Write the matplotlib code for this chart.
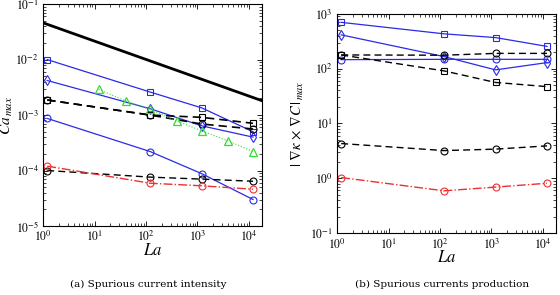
#!/usr/bin/env python3
"""
Spurious currents: intensity (Ca_max) and production (|grad kappa x grad C|_max) vs La
"""
import math
import matplotlib
matplotlib.use('Agg')
import matplotlib.pyplot as plt
from matplotlib.ticker import LogLocator, FuncFormatter, NullFormatter

plt.rcParams['mathtext.fontset'] = 'stix'
plt.rcParams['mathtext.default'] = 'it'
plt.rcParams['font.family'] = ['Liberation Serif', 'DejaVu Serif']

# Laplace numbers of the runs
la = [1.2, 120, 1200, 12000]
la_green = [12, 40, 120, 400, 1200, 4000, 12000]

# (a) Ca_max
ca_blue_sq = [1.0e-2, 2.6e-3, 1.35e-3, 5.0e-4]
ca_blue_di = [4.2e-3, 1.3e-3, 6.4e-4, 4.0e-4]
ca_blue_ci = [8.7e-4, 2.2e-4, 8.8e-5, 3.0e-5]
ca_blk_sq = [1.87e-3, 1.0e-3, 9.1e-4, 7.1e-4]
ca_blk_ci = [1.87e-3, 1.0e-3, 6.9e-4, 5.6e-4]
ca_blk_ci_low = [1.0e-4, 7.6e-5, 7.0e-5, 6.4e-5]
ca_red = [1.2e-4, 5.9e-5, 5.3e-5, 4.6e-5]
ca_green = [2.9e-3, 1.8e-3, 1.26e-3, 7.8e-4, 5.2e-4, 3.4e-4, 2.2e-4]
la_ref = [1, 2e4]
ca_ref = [4.6e-2, 1.75e-3]

# (b) |grad kappa x grad C|_max
g_blue_sq = [700, 432, 369, 255]
g_blue_di = [414, 166, 95, 129]
g_blue_ci = [146, 148, 148, 148]
g_blk_sq = [178, 91, 56, 47]
g_blk_ci = [178, 176, 190, 190]
g_blk_ci_low = [4.3, 3.2, 3.4, 3.9]
g_red = [1.03, 0.59, 0.69, 0.81]

BLUE = '#2a2ae8'
RED = '#ee3030'
GREEN = '#33dd33'
DASH = (0, (5, 3))


def style_axis(ax, ylim):
    ax.set_xscale('log')
    ax.set_yscale('log')
    ax.set_xlim(1, 1.8e4)
    ax.set_ylim(*ylim)
    ax.xaxis.set_major_locator(LogLocator(base=10, numticks=10))
    ax.yaxis.set_major_locator(LogLocator(base=10, numticks=10))
    ax.xaxis.set_minor_locator(LogLocator(base=10, subs=range(2, 10), numticks=20))
    ax.yaxis.set_minor_locator(LogLocator(base=10, subs=range(2, 10), numticks=20))
    fmt = FuncFormatter(lambda v, p: r'$10^{%d}$' % round(math.log10(v)))
    ax.xaxis.set_major_formatter(fmt)
    ax.yaxis.set_major_formatter(fmt)
    ax.xaxis.set_minor_formatter(NullFormatter())
    ax.yaxis.set_minor_formatter(NullFormatter())
    ax.tick_params(which='both', direction='in', top=True, right=True, labelsize=8.5)
    ax.tick_params(which='major', length=3.5, width=0.6, pad=3)
    ax.tick_params(which='minor', length=2, width=0.5)
    for s in ax.spines.values():
        s.set_linewidth(0.8)
    ax.set_xlabel(r'$La$', fontsize=12, labelpad=-1)


fig = plt.figure(figsize=(5.6, 2.95), dpi=100)
ax1 = fig.add_axes([0.077, 0.234, 0.391, 0.752])
ax2 = fig.add_axes([0.602, 0.210, 0.391, 0.743])

mk = dict(markersize=5, markerfacecolor='none', markeredgewidth=0.8)

# (a)
ax1.plot(la_ref, ca_ref, color='k', lw=2)
ax1.plot(la, ca_blue_sq, '-s', color=BLUE, lw=0.9, **mk)
ax1.plot(la, ca_blue_di, '-d', color=BLUE, lw=0.9, **mk)
ax1.plot(la, ca_blue_ci, '-o', color=BLUE, lw=0.9, **mk)
ax1.plot(la, ca_blk_sq, 's', color='k', ls=DASH, lw=1.2, **mk)
ax1.plot(la, ca_blk_ci, 'o', color='k', ls=DASH, lw=1.2, **mk)
ax1.plot(la, ca_blk_ci_low, 'o', color='k', ls=DASH, lw=1.0, **mk)
ax1.plot(la, ca_red, '-.o', color=RED, lw=1.0, **mk)
ax1.plot(la_green, ca_green, ':^', color=GREEN, lw=0.8, markersize=6,
         markerfacecolor='none', markeredgewidth=0.9)
style_axis(ax1, (1e-5, 1e-1))
ax1.set_ylabel(r'$Ca_{\,max}$', fontsize=11, labelpad=0)

# (b)
ax2.plot(la, g_blue_sq, '-s', color=BLUE, lw=0.9, **mk)
ax2.plot(la, g_blue_di, '-d', color=BLUE, lw=0.9, **mk)
ax2.plot(la, g_blue_ci, '-o', color=BLUE, lw=0.9, **mk)
ax2.plot(la, g_blk_sq, 's', color='k', ls=DASH, lw=1.0, **mk)
ax2.plot(la, g_blk_ci, 'o', color='k', ls=DASH, lw=1.0, **mk)
ax2.plot(la, g_blk_ci_low, 'o', color='k', ls=DASH, lw=1.0, **mk)
ax2.plot(la, g_red, '-.o', color=RED, lw=1.0, **mk)
style_axis(ax2, (1e-1, 1e3))
ax2.set_ylabel(r'$|\ \nabla\kappa\,\times\,\nabla C\,|_{\,max}$', fontsize=10.5, labelpad=3)

fig.text(0.265, 0.035, '(a) Spurious current intensity', ha='center', va='center',
         fontsize=7.5, family='DejaVu Serif')
fig.text(0.79, 0.035, '(b) Spurious currents production', ha='center', va='center',
         fontsize=7.5, family='DejaVu Serif')

fig.savefig('out.png', dpi=100)
